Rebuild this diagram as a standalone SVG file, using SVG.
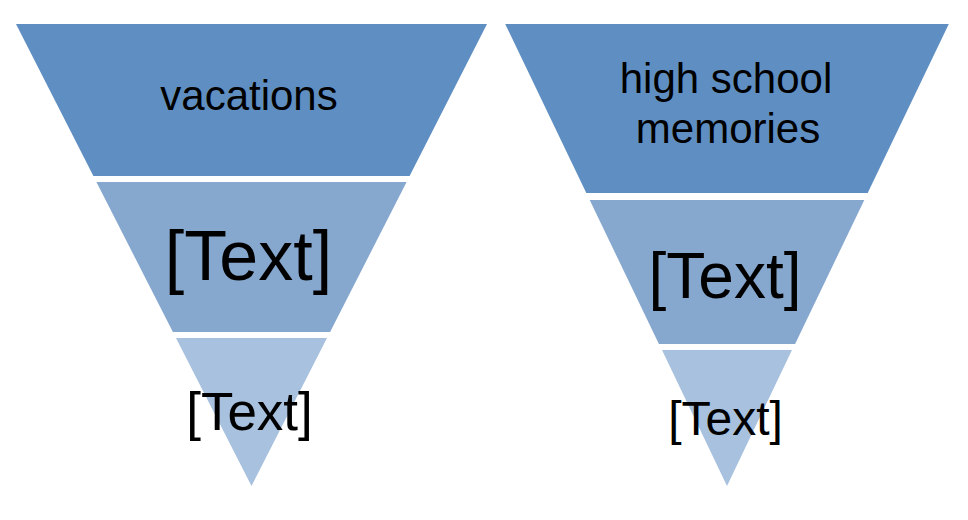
<svg xmlns="http://www.w3.org/2000/svg" width="968" height="520" viewBox="0 0 968 520">
<style>
.b1{fill:#5F8FC2}
.b2{fill:#86A8CF}
.b3{fill:#A7C1DF}
text{font-family:"Liberation Sans",Arial,sans-serif;fill:#000;text-anchor:middle}
</style>
<rect width="968" height="520" fill="#fff"/>
<g id="left-funnel">
<g id="vacations"><polygon class="b1" points="16,24 487,24 409.6,176 93.4,176"/><text x="249" y="110" font-size="42">vacations</text></g>
<g id="left-mid"><polygon class="b2" points="96.4,182 406.6,182 330.1,332 172.9,332"/><text x="248.5" y="280" font-size="70">[Text]</text></g>
<g id="left-bottom"><polygon class="b3" points="176,338 327,338 251.5,486"/><text x="249.5" y="430" font-size="53">[Text]</text></g>
</g>
<g id="right-funnel">
<g id="high-school"><polygon class="b1" points="505.2,24 948.8,24 867.7,193 586.3,193"/><text x="726" y="93" font-size="42">high school</text><text x="728" y="143" font-size="42">memories</text></g>
<g id="right-mid"><polygon class="b2" points="589.7,200 864.3,200 795.1,344 658.9,344"/><text x="725" y="298" font-size="64">[Text]</text></g>
<g id="right-bottom"><polygon class="b3" points="662,350 792,350 727,486"/><text x="725.5" y="435" font-size="48">[Text]</text></g>
</g>
<g id="connectors"/>
</svg>
